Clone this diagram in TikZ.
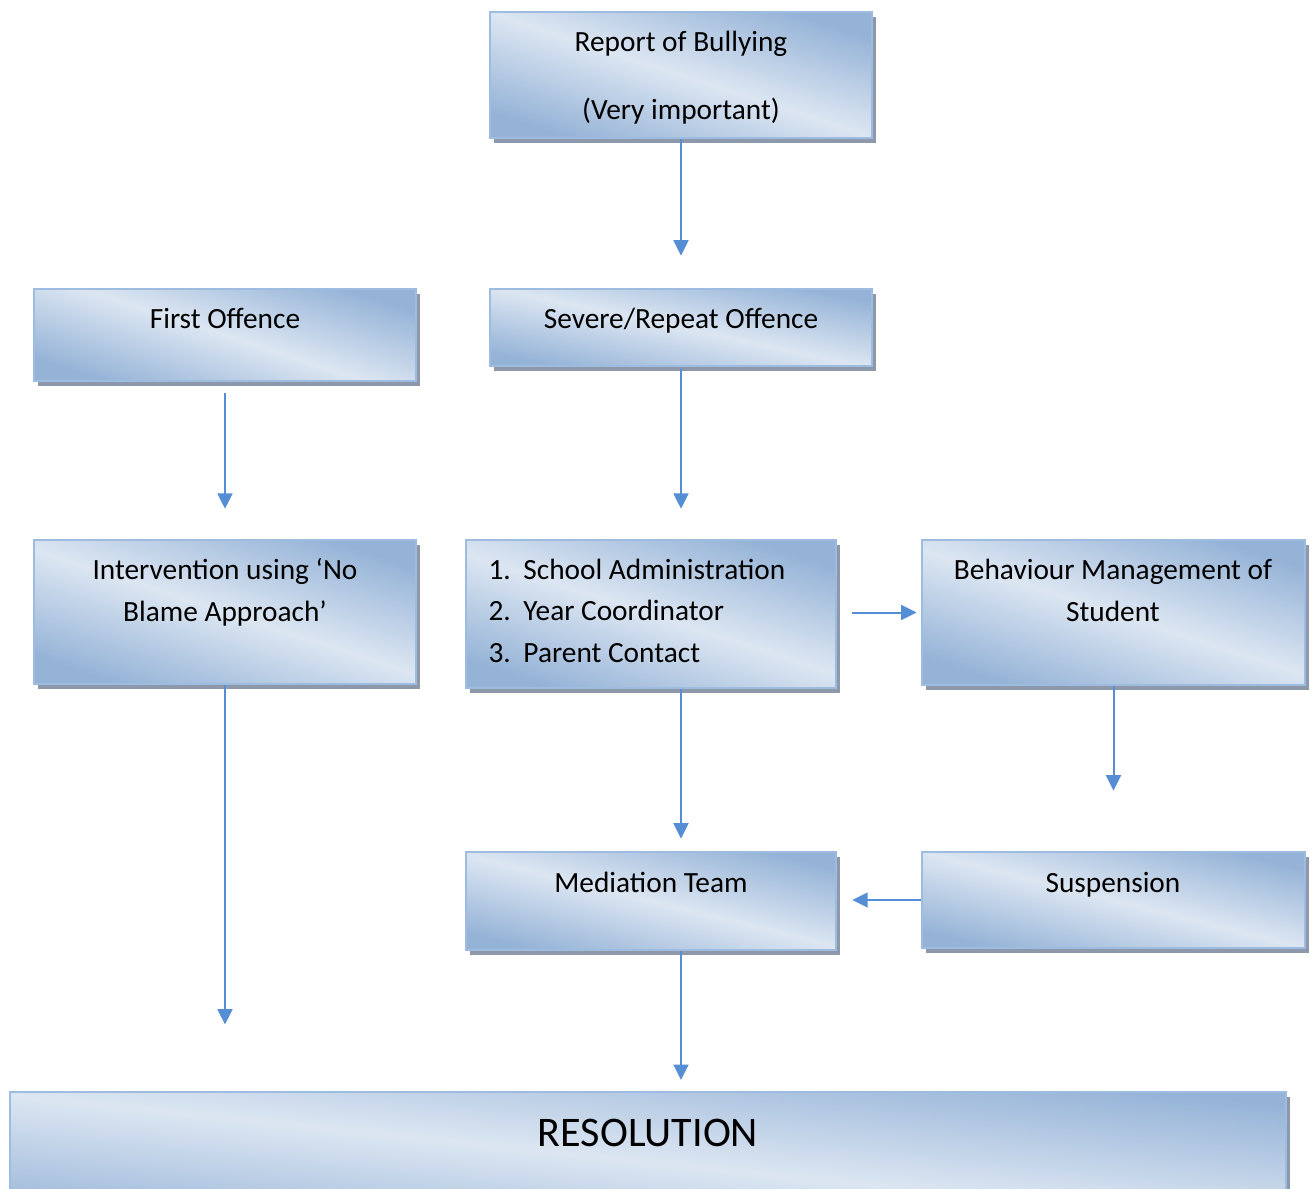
\documentclass[tikz,border=0pt]{standalone}
\usepackage{fontspec}
\setmainfont{Carlito}
\usetikzlibrary{fit,shadows,arrows.meta}
\definecolor{boxlight}{HTML}{DCE6F2}
\definecolor{boxdark}{HTML}{95B3D7}
\definecolor{boxedge}{HTML}{9DBCE0}
\definecolor{shadowgray}{HTML}{8D99AA}
\definecolor{arrowblue}{HTML}{558ED5}
\tikzset{
	box/.style={draw=boxedge,line width=1pt,inner sep=0pt,
		top color=boxdark,bottom color=boxdark,middle color=boxlight,shading angle=-18,
		drop shadow={shadow xshift=1.5pt,shadow yshift=-1.8pt,fill=shadowgray,opacity=1}},
	txt/.style={inner sep=0pt,anchor=base,align=center,font=\fontsize{11}{15.4}\selectfont},
	arr/.style={draw=arrowblue,line width=0.75pt,-{Triangle[length=5.8pt,width=5.6pt]}}
}
\newcommand{\itm}[1]{\makebox[13.1pt][l]{#1}}
\begin{document}
\begin{tikzpicture}[x=0.375pt,y=-0.375pt]
			\useasboundingbox (0,0) rectangle (1313,1189);
			\clip (0,0) rectangle (1313,1189);
			% boxes
			\node[box,fit={(490,12) (872,138)}] (report) {};
			\node[box,fit={(34,289) (416,381)}] (first) {};
			\node[box,fit={(490,289) (872,366)},shading angle=-12] (severe) {};
			\node[box,fit={(34,540) (416,684)}] (interv) {};
			\node[box,fit={(466,540) (836,688)}] (admin) {};
			\node[box,fit={(922,540) (1305,685)}] (behav) {};
			\node[box,fit={(466,852) (836,950)},shading angle=-14] (med) {};
			\node[box,fit={(922,852) (1305,948)},shading angle=-14] (susp) {};
			\node[box,fit={(10,1092) (1286,1232)},shading angle=-6] (res) {};
			% texts (base = last line)
			\node[txt] (report-t) at (681,119) {Report of Bullying\\[10.1pt](Very important)};
			\node[txt] (first-t) at (225,328) {First Offence};
			\node[txt] (severe-t) at (681,328) {Severe/Repeat Offence};
			\node[txt] (interv-t) at (225,621) {Intervention using ‘No\\Blame Approach’};
			\node[txt,align=left,anchor=base west] (admin-t) at (488,662) {\itm{1.}School Administration\\\itm{2.}Year Coordinator\\\itm{3.}Parent Contact};
			\node[txt] (behav-t) at (1113,621) {Behaviour Management of\\Student};
			\node[txt] (med-t) at (651,892) {Mediation Team};
			\node[txt] (susp-t) at (1113,892) {Suspension};
			\node[txt,font=\fontsize{15.8}{19}\selectfont] (res-t) at (648,1146) {RESOLUTION};
			% connectors
			\draw[arr,shorten >=12pt] (report) -- (severe);
			\draw[arr,shorten <=4pt,shorten >=11.2pt] (first) -- (interv);
			\draw[arr,shorten <=0.8pt,shorten >=11.2pt] (severe.south) -- (severe.south |- admin.north);
			\draw[arr,shorten <=5.6pt,shorten >=1.5pt] (admin.east |- behav) -- (behav.west);
			\draw[arr,shorten >=24.8pt] (interv.south) -- (interv.south |- res.north);
			\draw[arr,shorten >=4.5pt] (admin.south -| severe.south) -- (med.north -| severe.south);
			\draw[arr,shorten >=22.5pt] (behav) -- (susp);
			\draw[arr,shorten >=5.6pt] (susp.west) -- (susp.west -| med.east);
			\draw[arr,shorten >=4pt] (med.south -| severe.south) -- (res.north -| severe.south);
		\end{tikzpicture}
\end{document}
